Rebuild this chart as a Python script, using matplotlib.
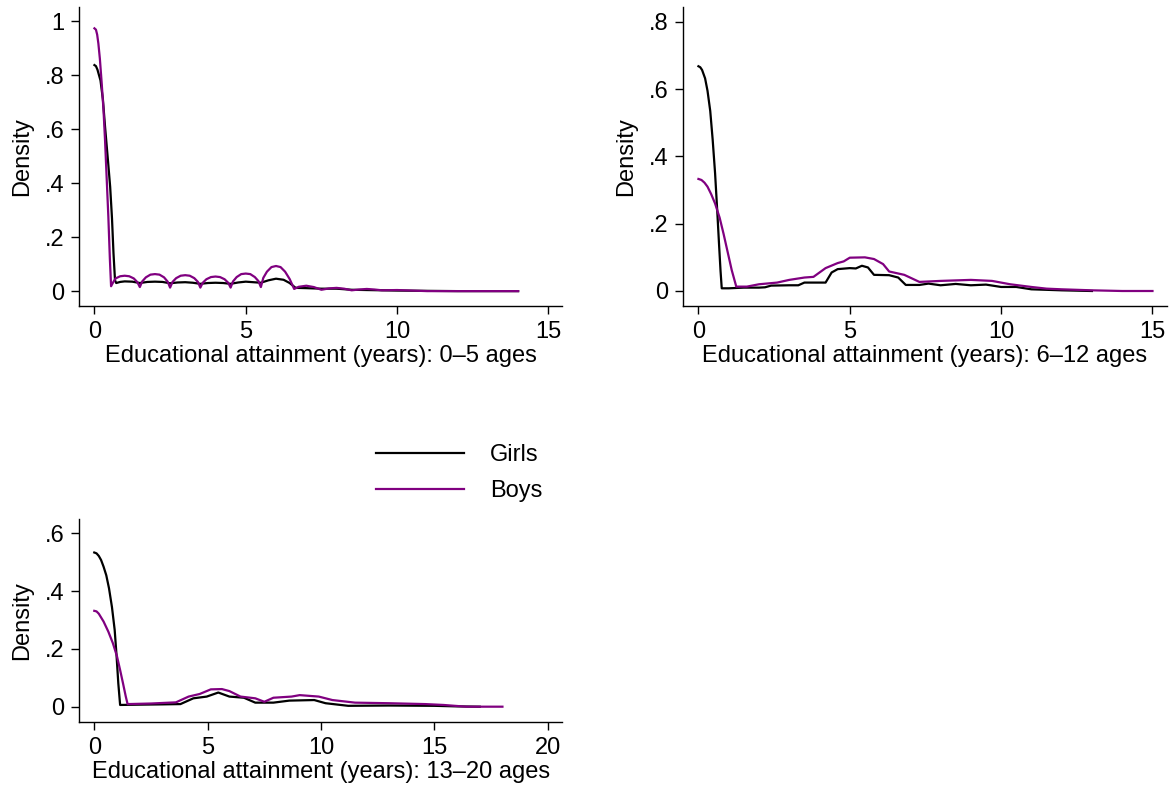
"""
Kernel densities of educational attainment (years) by sex,
one panel per age group: 0-5, 6-12 and 13-20.
"""

import matplotlib.pyplot as plt
import matplotlib.ticker as mticker
from matplotlib.lines import Line2D

plt.rcParams["font.family"] = ["Liberation Sans", "DejaVu Sans"]

# -- Density estimates, read per age group --------------------------------------

# 0-5 ages
X_0_5_GIRLS = [0, 0.05, 0.1, 0.2, 0.28, 0.35, 0.45, 0.52, 0.58, 0.63, 0.68, 0.72,
               0.85, 1.0, 1.25, 1.5,
               1.75, 2.0, 2.25, 2.5, 2.75, 3.0, 3.25, 3.5, 3.75, 4.0, 4.25, 4.5,
               4.75, 5.0, 5.25, 5.5, 5.75, 6.0, 6.25, 6.45, 6.65, 7.0, 7.5, 8.0,
               8.5, 9.0, 9.5, 10.0, 11.0, 12.0, 14.0]
Y_0_5_GIRLS = [0.837, 0.833, 0.820, 0.78, 0.71, 0.61, 0.48, 0.386, 0.27, 0.14,
               0.04, 0.03, 0.034, 0.036,
               0.035, 0.030, 0.034, 0.035, 0.034, 0.029, 0.032, 0.033, 0.031,
               0.027, 0.030, 0.031, 0.030, 0.027, 0.032, 0.035, 0.033, 0.031,
               0.040, 0.046, 0.042, 0.030, 0.012, 0.011, 0.009, 0.009, 0.005,
               0.004, 0.003, 0.002, 0.001, 0.0, 0.0]

X_0_5_BOYS = [0, 0.05, 0.09, 0.13, 0.18, 0.24, 0.3, 0.35, 0.4, 0.46, 0.51, 0.55,
              0.62, 0.7, 0.85, 1.0, 1.15, 1.3, 1.42, 1.5,
              1.58, 1.7, 1.85, 2.0, 2.15, 2.3, 2.42, 2.5,
              2.58, 2.7, 2.85, 3.0, 3.15, 3.3, 3.42, 3.5,
              3.58, 3.7, 3.85, 4.0, 4.15, 4.3, 4.42, 4.5,
              4.58, 4.7, 4.85, 5.0, 5.15, 5.3, 5.42, 5.5,
              5.58, 5.7, 5.85, 6.0, 6.15, 6.3, 6.45, 6.6,
              6.75, 7.0, 7.25, 7.5, 7.75, 8.0, 8.25, 8.5, 8.75, 9.0, 9.25, 9.5,
              10.0, 10.5, 11.0, 12.0, 13.0, 14.0]
Y_0_5_BOYS = [0.973, 0.968, 0.950, 0.917, 0.86, 0.77, 0.67, 0.56, 0.43, 0.275,
              0.12, 0.018,
              0.033, 0.047, 0.055, 0.057, 0.055, 0.047, 0.033, 0.015,
              0.036, 0.051, 0.061, 0.063, 0.061, 0.051, 0.035, 0.013,
              0.034, 0.048, 0.057, 0.059, 0.057, 0.048, 0.034, 0.013,
              0.031, 0.044, 0.052, 0.054, 0.052, 0.044, 0.031, 0.013,
              0.036, 0.052, 0.063, 0.065, 0.063, 0.052, 0.037, 0.015,
              0.049, 0.072, 0.089, 0.093, 0.089, 0.072, 0.045, 0.008,
              0.016, 0.020, 0.015, 0.005, 0.010, 0.012, 0.009, 0.003, 0.006,
              0.008, 0.006, 0.003, 0.004, 0.002, 0.0, 0.0, 0.0, 0.0]

# 6-12 ages
X_6_12_GIRLS = [0, 0.06, 0.12, 0.22, 0.3, 0.39, 0.47, 0.55, 0.62, 0.68, 0.73,
                0.77, 1.0, 1.5, 2.0, 2.2, 2.4, 3.0,
                3.3, 3.5, 4.2, 4.4, 4.6, 5.0, 5.2, 5.4, 5.6, 5.8, 6.3, 6.6,
                6.85, 7.3, 7.6, 8.0, 8.5, 9.0, 9.5, 10.0, 10.5, 11.0, 12.0, 13.0]
Y_6_12_GIRLS = [0.668, 0.665, 0.657, 0.632, 0.595, 0.535, 0.45, 0.35, 0.24,
                0.14, 0.06, 0.008, 0.008, 0.010, 0.010,
                0.011, 0.016, 0.017, 0.017, 0.025, 0.025, 0.055, 0.065, 0.068,
                0.067, 0.075, 0.070, 0.048, 0.047, 0.040, 0.018, 0.018, 0.022,
                0.017, 0.021, 0.017, 0.019, 0.012, 0.012, 0.005, 0.002, 0.0]

X_6_12_BOYS = [0, 0.1, 0.2, 0.3, 0.42, 0.55, 0.7, 0.83, 0.96, 1.1, 1.25, 1.6,
               2.0, 2.6, 3.0, 3.5, 3.8,
               4.2, 4.6, 4.8, 5.0, 5.5, 5.8, 6.1, 6.3, 6.8, 7.3, 8.0, 9.0, 9.7,
               10.3, 11.0, 11.5, 12.0, 13.0, 14.0, 15.0]
Y_6_12_BOYS = [0.333, 0.330, 0.322, 0.310, 0.288, 0.26, 0.218, 0.17, 0.118,
               0.062, 0.013, 0.013, 0.020, 0.025,
               0.033, 0.040, 0.042, 0.068, 0.083, 0.088, 0.099, 0.100, 0.095,
               0.080, 0.058, 0.048, 0.027, 0.030, 0.033, 0.030, 0.020, 0.012,
               0.007, 0.005, 0.002, 0.0, 0.0]

# 13-20 ages
X_13_20_GIRLS = [0, 0.1, 0.2, 0.3, 0.41, 0.53, 0.65, 0.78, 0.9, 0.98, 1.06, 1.14,
                 2.0, 3.0, 3.8, 4.37, 4.96,
                 5.47, 5.96, 6.6, 7.1, 7.9, 8.6, 9.7, 10.2, 11.2, 13.0, 15.0,
                 16.0, 17.0]
Y_13_20_GIRLS = [0.534, 0.531, 0.522, 0.508, 0.485, 0.455, 0.41, 0.345, 0.266,
                 0.18, 0.081, 0.006, 0.007, 0.008, 0.009,
                 0.029, 0.035, 0.049, 0.035, 0.031, 0.014, 0.014, 0.021, 0.023,
                 0.012, 0.003, 0.004, 0.003, 0.001, 0.0]

X_13_20_BOYS = [0, 0.1, 0.2, 0.41, 0.62, 0.82, 1.0, 1.14, 1.27, 1.39, 1.47, 2.5,
                3.6, 4.16, 4.65, 5.14,
                5.63, 5.96, 6.45, 7.1, 7.5, 7.9, 8.7, 9.06, 9.9, 10.5, 11.5,
                13.0, 14.6, 15.4, 16.4, 18.0]
Y_13_20_BOYS = [0.332, 0.330, 0.322, 0.295, 0.26, 0.22, 0.175, 0.127, 0.08,
                0.035, 0.009, 0.011, 0.015, 0.035,
                0.044, 0.060, 0.061, 0.054, 0.035, 0.029, 0.017, 0.031, 0.035,
                0.040, 0.035, 0.023, 0.014, 0.012, 0.009, 0.006, 0.0, 0.0]

AGE_LABELS = ["0\u20135", "6\u201312", "13\u201320"]
SERIES_LABELS = ["Girls", "Boys"]

# -- Styling ---------------------------------------------------------------------
W_PX, H_PX = 1171, 787
COLORS = {"Girls": "black", "Boys": "#800080"}
FS = 17

# axes boxes in pixels: left, top, right, bottom
PANELS = [
    dict(box=(79.3, 7.0, 562.3, 305.7), xlim=(-0.50, 15.46), ylim=(-0.054, 1.052),
         xticks=[0, 5, 10, 15], yticks=[0, 0.2, 0.4, 0.6, 0.8, 1.0]),
    dict(box=(683.3, 6.7, 1166.7, 305.7), xlim=(-0.50, 15.47), ylim=(-0.0437, 0.845),
         xticks=[0, 5, 10, 15], yticks=[0, 0.2, 0.4, 0.6, 0.8]),
    dict(box=(79.3, 519.3, 562.3, 721.7), xlim=(-0.66, 20.64), ylim=(-0.052, 0.649),
         xticks=[0, 5, 10, 15, 20], yticks=[0, 0.2, 0.4, 0.6]),
]


def stata_num(v, _pos=None):
    """Format like Stata: no leading zero, integers without decimals."""
    if abs(v - round(v)) < 1e-9:
        return f"{int(round(v))}"
    s = f"{v:.1f}"
    return s.replace("0.", ".", 1)


def add_panel(fig, spec, girls, boys, age):
    l, t, r, b = spec["box"]
    ax = fig.add_axes([l / W_PX, 1 - b / H_PX, (r - l) / W_PX, (b - t) / H_PX])
    for name, (x, y) in zip(SERIES_LABELS, (girls, boys)):
        ax.plot(x, y, color=COLORS[name], lw=1.6, solid_joinstyle="round")

    ax.set_xlim(*spec["xlim"])
    ax.set_ylim(*spec["ylim"])
    ax.set_xticks(spec["xticks"])
    ax.set_yticks(spec["yticks"])
    ax.xaxis.set_major_formatter(mticker.FuncFormatter(stata_num))
    ax.yaxis.set_major_formatter(mticker.FuncFormatter(stata_num))

    for side in ("top", "right"):
        ax.spines[side].set_visible(False)
    for side in ("left", "bottom"):
        ax.spines[side].set_linewidth(1.0)
    ax.tick_params(direction="out", length=5.8, width=1.0, pad=5,
                   labelsize=FS, colors="black")

    ax.set_xlabel(f"Educational attainment (years): {age} ages",
                  fontsize=FS, labelpad=2)
    ax.set_ylabel("Density", fontsize=FS, labelpad=8.5)
    return ax


def main():
    fig = plt.figure(figsize=(W_PX / 100, H_PX / 100), dpi=100)

    curves = [
        ((X_0_5_GIRLS, Y_0_5_GIRLS), (X_0_5_BOYS, Y_0_5_BOYS)),
        ((X_6_12_GIRLS, Y_6_12_GIRLS), (X_6_12_BOYS, Y_6_12_BOYS)),
        ((X_13_20_GIRLS, Y_13_20_GIRLS), (X_13_20_BOYS, Y_13_20_BOYS)),
    ]
    for spec, (girls, boys), age in zip(PANELS, curves, AGE_LABELS):
        add_panel(fig, spec, girls, boys, age)

    # shared legend between the two rows
    handles = [Line2D([], [], color=COLORS[n], lw=1.6) for n in SERIES_LABELS]
    fig.legend(handles, SERIES_LABELS, loc="upper left",
               bbox_to_anchor=(376 / W_PX, 1 - 444 / H_PX),
               frameon=False, fontsize=FS, handlelength=3.73,
               handletextpad=1.1, labelspacing=0.6,
               borderpad=0, borderaxespad=0)

    fig.savefig("out.png", dpi=100)


if __name__ == "__main__":
    main()
